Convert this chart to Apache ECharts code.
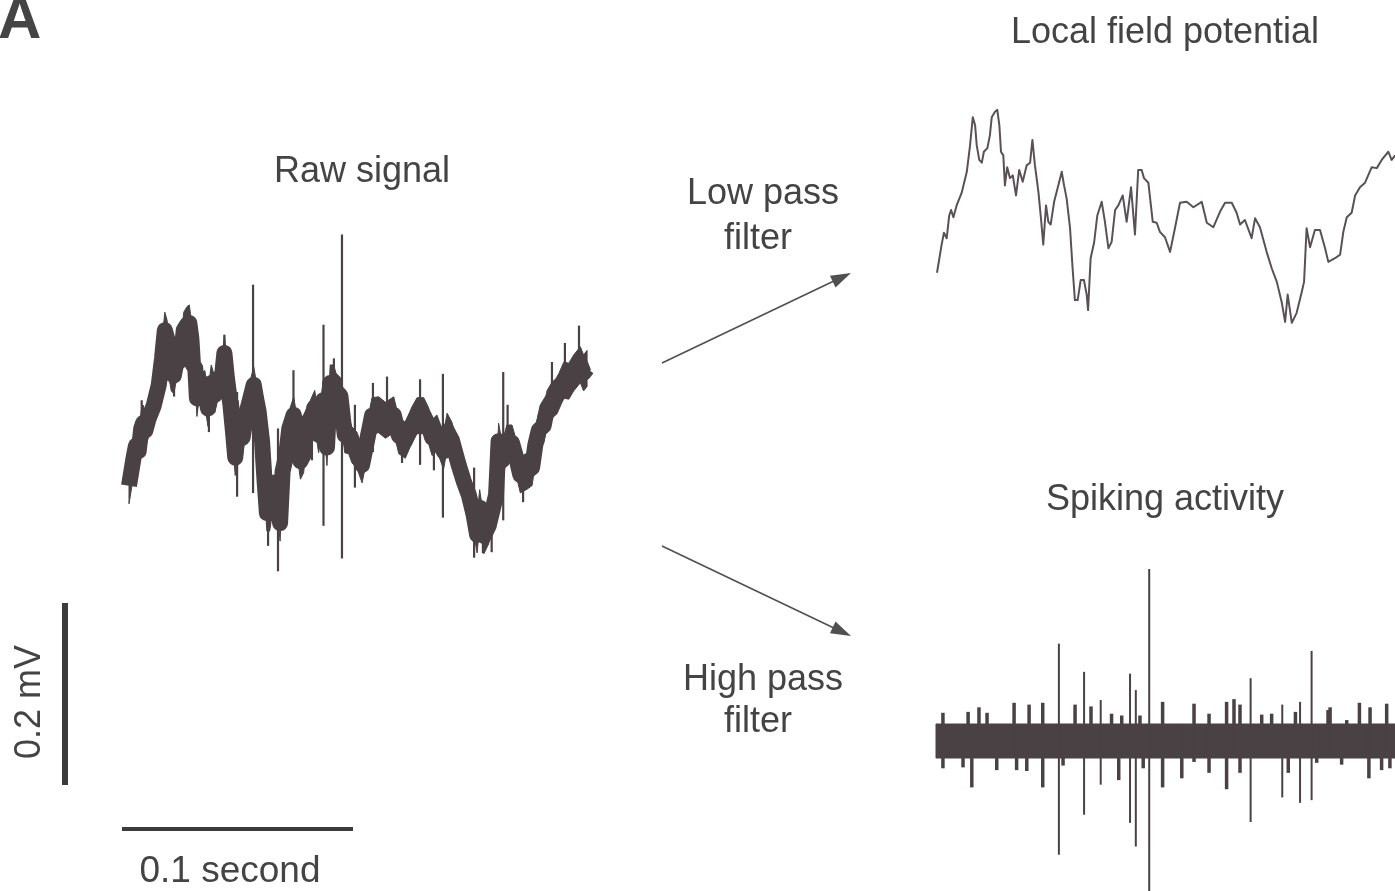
<!DOCTYPE html>
<html>
<head>
<meta charset="utf-8">
<title>Raw signal, local field potential and spiking activity</title>
<script src="https://cdn.jsdelivr.net/npm/echarts@6/dist/echarts.min.js"></script>
<style>
  html, body { margin: 0; padding: 0; background: #ffffff; }
  #chart { width: 1395px; height: 891px; }
</style>
</head>
<body>
<div id="chart"></div>
<script>
// ---- Recorded traces (time in ms, voltage in µV) ----

// Low-frequency component (local field potential)
const lfpMs = [0,2.0,3.0,4.2,5.3,6.1,7.1,8.5,10.7,12.9,
  14.3,15.5,16.5,17.2,18.3,19.4,20.3,21.8,22.9,23.7,
  25.1,26.1,27.0,27.7,28.7,29.4,30.4,31.6,32.8,34.2,
  35.6,37.1,38.8,40.3,41.3,42.4,43.9,45.0,46.0,47.2,
  48.2,49.2,50.7,52.5,54.0,55.0,56.1,57.6,58.7,59.7,
  60.9,62.2,63.6,64.8,65.4,66.5,68.0,69.4,71.3,72.7,
  74.2,75.6,77.1,78.5,80.4,82.1,84.0,85.7,87.1,88.6,
  89.6,91.5,93.4,95.1,96.5,98.7,100.9,103.0,105.2,108.1,
  111.0,114.6,116.8,119.6,122.5,124.7,127.6,129.7,131.2,133.3,
  136.2,137.7,139.8,142.7,144.9,147.1,149.2,150.7,151.8,153.6,
  155.7,157.9,158.9,160.0,161.5,163.6,165.8,168.0,169.4,172.3,
  174.5,175.9,177.4,179.5,181.0,183.1,185.3,188.2,190.4,192.5,
  195.4,196.8,198.3];
const lfpUv = [-58,-27,-14,-20,5,11,3,16,30,53,
  82,113,104,82,66,63,75,79,93,113,
  119,121,104,75,71,38,58,46,49,27,
  55,42,60,63,88,60,31,2,-27,16,
  -2,-5,20,38,53,38,24,-9,-53,-88,
  -88,-66,-66,-82,-99,-42,-25,5,20,-2,
  -31,-24,11,16,27,-2,36,-16,55,55,
  46,41,-2,-3,-13,-19,-35,-9,19,20,
  14,20,-3,-8,9,19,19,8,-5,0,
  -20,2,-8,-35,-53,-68,-90,-112,-82,-113,
  -102,-79,-68,-9,-30,-11,-11,-31,-46,-42,
  -38,-13,3,8,27,36,41,58,57,66,
  75,66,71];

// Fast excursions of the raw trace: time, upper end, lower end (µV)
const rawSpikeMs = [53.7,92.2,84.2,64.5,46.8,71.2,41.3,60.2,97.8,79.2,
  88.7,135.9,111.7,105.6,126.0,132.0,118.2,162.0,194.8,149.4,
  157.0,163.9,170.6,183.1,188.7,34.6,66.7,153.2,5.5,19.5];
const rawSpikeHi = [163,218,119,5,45,69,108,-80,31,10,
  82,65,62,55,59,0,5,67,118,-38,
  -19,31,-30,78,99,40,9,-90,36,70];
const rawSpikeLo = [-66,-138,-102,-152,-70,-32,60,-124,-60,-30,
  40,-93,14,-21,-35,-41,-33,-96,70,-137,
  -131,-20,-76,30,50,1,-40,-132,0,40];

// High-pass filtered trace: unit spikes (time, peak, trough in µV)
const spikeMs = [53.2,64.1,84.0,86.5,92.3,71.3,136.2,162.6,157.6,149.9];
const spikeHi = [107,76,74,56,189,45,69,99,43,40];
const spikeLo = [-125,-81,-90,-116,-180,-48,-89,-65,-68,-62];

// High-pass filtered trace: background noise bursts
const noiseMs = [15.5,46.2,33.8,40.3,18.6,98.1,79.1,60.2,67.1,106.4,
  125.8,129.0,131.6,187.4,183.3,195.1,170.6,111.7,118.2,3.0,
  13.9,22.1,26.3,34.9,11.7,39.3,55.0,76.0,80.4,88.3,
  89.7,141.0,145.3,155.6,164.8,175.6,177.8,187.9,192.9,196.5,
  152.5,169.7];
const noiseHi = [10,42,42,40,37,43,15,40,38,15,
  43,46,40,15,42,41,37,41,30,31,
  32,31,15,15,15,15,15,30,28,28,
  15,29,30,32,15,15,23,37,15,15,
  15,34];
const noiseLo = [-51,-51,-15,-15,-15,-51,-43,-15,-15,-41,
  -53,-15,-35,-41,-15,-15,-15,-23,-35,-30,
  -15,-15,-32,-32,-29,-33,-27,-15,-15,-15,
  -30,-15,-15,-15,-24,-26,-15,-15,-32,-30,
  -35,-15];

// Scale bars
const scaleTimeMs = 100;   // "0.1 second"
const scaleVoltUv = 200;   // "0.2 mV"

// ---- Layout: every panel shares one scale (px per ms, px per µV) ----
const PX_PER_MS = 2.31;
const PX_PER_UV = 0.91;
const SPAN_MS = 200;
const RAW_HALF_PX = 18;      // half thickness of the raw trace's noise band
const HP_HALF_PX = 17;       // half thickness of the high-pass noise floor

const traceColor = '#4a4145';
const lfpColor = '#5a5157';
const textColor = '#444444';
const font = '"Liberation Sans", Arial, Helvetica, sans-serif';

function panel(left, zeroY, minUv, maxUv) {
  return {
    grid: { left: left, top: zeroY - maxUv * PX_PER_UV, width: SPAN_MS * PX_PER_MS,
            height: (maxUv - minUv) * PX_PER_UV, containLabel: false, outerBoundsMode: 'none' },
    x: { type: 'value', min: 0, max: SPAN_MS, show: false },
    y: { type: 'value', min: minUv, max: maxUv, show: false }
  };
}

const rawPanel = panel(129, 433, -200, 250);
const lfpPanel = panel(937, 220, -150, 150);
const hpPanel = panel(936, 741, -200, 200);
// Full-canvas panel for the scale bars
const W = 1395, H = 891;
const scalePanel = {
  grid: { left: 0, top: 0, width: W, height: H, containLabel: false, outerBoundsMode: 'none' },
  x: { type: 'value', min: 0, max: W / PX_PER_MS, show: false },
  y: { type: 'value', min: 0, max: H / PX_PER_UV, show: false }
};

const lfpPoints = lfpMs.map((t, i) => [t, lfpUv[i]]);
const rawSpikes = rawSpikeMs.map((t, i) => [t, rawSpikeHi[i], rawSpikeLo[i]]);
const hpSpikes = spikeMs.map((t, i) => [t, spikeHi[i], spikeLo[i]]);
const hpNoise = noiseMs.map((t, i) => [t, noiseHi[i], noiseLo[i]]);

function segments(width, color) {
  return function (params, api) {
    const a = api.coord([api.value(0), api.value(1)]);
    const b = api.coord([api.value(0), api.value(2)]);
    return { type: 'line', shape: { x1: a[0], y1: a[1], x2: b[0], y2: b[1] },
             style: { stroke: color, lineWidth: width } };
  };
}

// A trace drawn as a band of fixed vertical thickness around its points
function band(points, halfPx, color) {
  return function (params, api) {
    const pts = points.map(p => api.coord(p));
    const upper = pts.map(p => [p[0], p[1] - halfPx]);
    const lower = pts.slice().reverse().map(p => [p[0], p[1] + halfPx]);
    return { type: 'polygon', shape: { points: upper.concat(lower) },
             style: { fill: color, stroke: color, lineWidth: 1 } };
  };
}

// Scale bar anchors (ms / µV in the full-canvas panel)
const vBarX = 65 / PX_PER_MS, vBarY0 = (H - 785) / PX_PER_UV;
const hBarX0 = 122 / PX_PER_MS, hBarY = (H - 829) / PX_PER_UV;

const option = {
  animation: false,
  backgroundColor: '#ffffff',
  grid: [rawPanel.grid, lfpPanel.grid, hpPanel.grid, scalePanel.grid],
  xAxis: [
    Object.assign({ gridIndex: 0 }, rawPanel.x),
    Object.assign({ gridIndex: 1 }, lfpPanel.x),
    Object.assign({ gridIndex: 2 }, hpPanel.x),
    Object.assign({ gridIndex: 3 }, scalePanel.x)
  ],
  yAxis: [
    Object.assign({ gridIndex: 0 }, rawPanel.y),
    Object.assign({ gridIndex: 1 }, lfpPanel.y),
    Object.assign({ gridIndex: 2 }, hpPanel.y),
    Object.assign({ gridIndex: 3 }, scalePanel.y)
  ],
  series: [
    // Raw signal: slow component carrying its broadband noise band
    { type: 'custom', xAxisIndex: 0, yAxisIndex: 0, data: [[0, 0]],
      renderItem: band(lfpPoints, RAW_HALF_PX, traceColor), silent: true },
    { type: 'line', xAxisIndex: 0, yAxisIndex: 0, data: lfpPoints, showSymbol: false,
      lineStyle: { color: traceColor, width: 16, join: 'round', cap: 'butt' }, silent: true },
    { type: 'custom', xAxisIndex: 0, yAxisIndex: 0, data: rawSpikes,
      renderItem: segments(2.2, traceColor), silent: true },

    // Local field potential
    { type: 'line', xAxisIndex: 1, yAxisIndex: 1, data: lfpPoints, showSymbol: false,
      lineStyle: { color: lfpColor, width: 2, join: 'round' }, silent: true },

    // Spiking activity: noise floor, noise bursts and unit spikes
    { type: 'custom', xAxisIndex: 2, yAxisIndex: 2, data: [[0, 0]],
      renderItem: band([[0, 0], [SPAN_MS, 0]], HP_HALF_PX, traceColor), silent: true },
    { type: 'custom', xAxisIndex: 2, yAxisIndex: 2, data: hpNoise,
      renderItem: segments(3.5, traceColor), silent: true },
    { type: 'custom', xAxisIndex: 2, yAxisIndex: 2, data: hpSpikes,
      renderItem: segments(2, traceColor), silent: true },

    // Scale bars
    { type: 'line', xAxisIndex: 3, yAxisIndex: 3, showSymbol: false, silent: true,
      data: [[vBarX, vBarY0], [vBarX, vBarY0 + scaleVoltUv]],
      lineStyle: { color: '#3c3c3c', width: 6, cap: 'butt' } },
    { type: 'line', xAxisIndex: 3, yAxisIndex: 3, showSymbol: false, silent: true,
      data: [[hBarX0, hBarY], [hBarX0 + scaleTimeMs, hBarY]],
      lineStyle: { color: '#3c3c3c', width: 4, cap: 'butt' } }
  ],
  graphic: [
    { type: 'text', left: -2, top: -9, style: { text: 'A', font: 'bold 60px ' + font, fill: textColor } },
    { type: 'text', x: 1165, y: 33, style: { text: 'Local field potential', font: '36px ' + font,
      fill: textColor, textAlign: 'center', textVerticalAlign: 'middle' } },
    { type: 'text', x: 362, y: 172, style: { text: 'Raw signal', font: '36px ' + font,
      fill: textColor, textAlign: 'center', textVerticalAlign: 'middle' } },
    { type: 'text', x: 763, y: 194, style: { text: 'Low pass', font: '36px ' + font,
      fill: textColor, textAlign: 'center', textVerticalAlign: 'middle' } },
    { type: 'text', x: 758, y: 239, style: { text: 'filter', font: '36px ' + font,
      fill: textColor, textAlign: 'center', textVerticalAlign: 'middle' } },
    { type: 'text', x: 763, y: 680, style: { text: 'High pass', font: '36px ' + font,
      fill: textColor, textAlign: 'center', textVerticalAlign: 'middle' } },
    { type: 'text', x: 758, y: 722, style: { text: 'filter', font: '36px ' + font,
      fill: textColor, textAlign: 'center', textVerticalAlign: 'middle' } },
    { type: 'text', x: 1165, y: 500, style: { text: 'Spiking activity', font: '36px ' + font,
      fill: textColor, textAlign: 'center', textVerticalAlign: 'middle' } },
    { type: 'text', x: 230, y: 872, style: { text: '0.1 second', font: '37px ' + font,
      fill: textColor, textAlign: 'center', textVerticalAlign: 'middle' } },
    { type: 'text', x: 30, y: 702, rotation: Math.PI / 2, style: { text: '0.2 mV', font: '36px ' + font,
      fill: textColor, textAlign: 'center', textVerticalAlign: 'middle' } },

    // Arrows from the raw signal to the filtered traces
    { type: 'line', shape: { x1: 662, y1: 363, x2: 836, y2: 280 },
      style: { stroke: '#505050', lineWidth: 1.6 } },
    { type: 'polygon', shape: { points: [[851, 273], [835.5, 287.5], [830.0, 275.8]] },
      style: { fill: '#505050' } },
    { type: 'line', shape: { x1: 662, y1: 546, x2: 836, y2: 629 },
      style: { stroke: '#505050', lineWidth: 1.6 } },
    { type: 'polygon', shape: { points: [[851, 636], [830.0, 633.2], [835.5, 621.5]] },
      style: { fill: '#505050' } }
  ]
};

const chart = echarts.init(document.getElementById('chart'), null, { renderer: 'canvas' });
chart.setOption(option);
</script>
</body>
</html>
